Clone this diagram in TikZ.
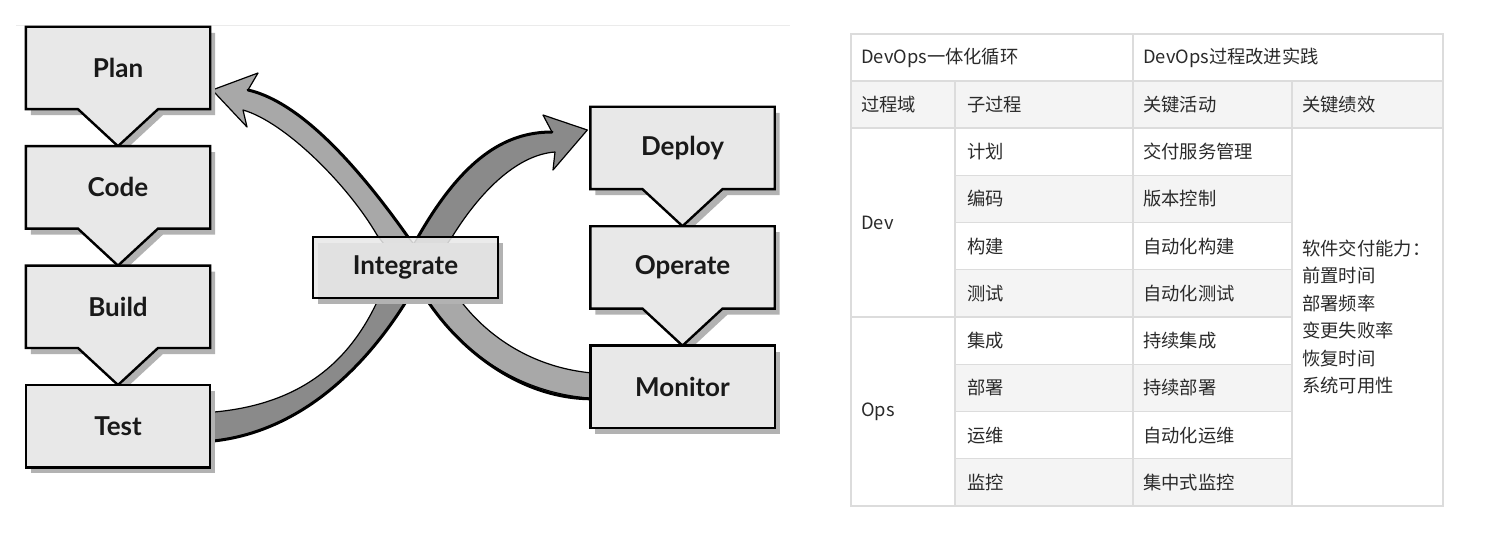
\documentclass[tikz,border=0pt]{standalone}
\usepackage{fontspec}
\setsansfont{Lato}
\newfontfamily\cjk{Noto Sans CJK SC}
\usepackage{tikz}
\usetikzlibrary{positioning,calc,shadows}
\pgfdeclarelayer{ribbons}
\pgfdeclarelayer{boxes}
\pgfsetlayers{ribbons,boxes,main}
\definecolor{boxfill}{HTML}{E8E8E8}
\definecolor{ribdark}{HTML}{8A8A8A}
\definecolor{riblight}{HTML}{A8A8A8}
\definecolor{gridline}{HTML}{DCDCDC}
\definecolor{rowshade}{HTML}{F4F4F4}
\definecolor{celltext}{HTML}{2A2A2A}
\def\dy{37pt}
\def\rh{47.25}
\tikzstyle{stage}=[minimum width=184pt,minimum height=82pt,inner sep=0pt,
  font=\sffamily\bfseries\fontsize{26}{30}\selectfont,text=black!90]
\tikzstyle{frame}=[draw=black,line width=2.4pt,fill=boxfill,line join=miter,
  drop shadow={shadow xshift=5pt,shadow yshift=-6pt,fill=black!30,opacity=1}]
\tikzstyle{ribbon}=[draw=black,line width=1.2pt,line join=round]
\tikzstyle{rim}=[draw=black,line width=3pt,line cap=round]
\tikzstyle{grid}=[draw=gridline,line width=1.2pt]
\tikzstyle{cell}=[anchor=west,inner sep=0pt,text=celltext,
  font=\cjk\fontsize{18.3}{22}\selectfont]
\newcommand{\newStage}[3]{\node[stage,#3](#1){#2};}
\newcommand{\stageFlag}[2]{\draw[frame] (#1.north west) -- (#1.north east) -- (#1.south east)
  -- ([xshift=40pt]#1.south) -- (#2.north) -- ([xshift=-40pt]#1.south) -- (#1.south west) -- cycle;}
\newcommand{\stageBox}[2]{\draw[frame,#2] (#1.north west) rectangle (#1.south east);}

\begin{document}
\begin{tikzpicture}[x=1pt,y=-1pt,node distance=\dy]
  \useasboundingbox (0,0) rectangle (1496,556);

  % stages of the loop
  \newStage{plan}{Plan}{at={(118,68)}}
  \newStage{code}{Code}{below=of plan}
  \newStage{build}{Build}{below=of code}
  \newStage{test}{Test}{below=of build}
  \newStage{deploy}{Deploy}{at={(682.5,148)}}
  \newStage{operate}{Operate}{below=of deploy}
  \newStage{monitor}{Monitor}{below=of operate}
  \newStage{integrate}{Integrate}{at={(405.5,267.5)},minimum width=185pt,minimum height=61pt}

  \begin{pgfonlayer}{boxes}
    \stageFlag{plan}{code}
    \stageFlag{code}{build}
    \stageFlag{build}{test}
    \stageBox{test}{}
    \stageFlag{deploy}{operate}
    \stageFlag{operate}{monitor}
    \stageBox{monitor}{}
    \stageBox{integrate}{fill opacity=0.88}
  \end{pgfonlayer}

  \begin{pgfonlayer}{ribbons}
    \draw[black!8,line width=1pt] (16,26) -- (790,26);
    % test -> deploy
    \filldraw[ribbon,fill=ribdark] ($(test.east)+(-15,-13)$) .. controls (290,410) and (345,370) .. (377,302)
      -- (418,237) .. controls (462,160) and (504,132) .. (552,132) -- (543,115) -- ($(deploy.west)+(-3,-18)$)
      -- (553,170) -- (555,152) .. controls (515,155) and (478,195) .. (452,237)
      -- (407,300) .. controls (370,360) and (300,440) .. ($(test.east)+(-15,16)$) -- cycle;
    \draw[rim] (407,300) .. controls (370,360) and (300,440) .. ($(test.east)+(-15,16)$);
    \draw[rim] (418,237) .. controls (462,160) and (504,132) .. (552,132);
    % monitor -> plan
    \filldraw[ribbon,fill=riblight] ($(monitor.west)+(15,-13)$) .. controls (540,372) and (490,340) .. (460,300)
      -- (408,237) .. controls (345,148) and (292,100) .. (248,90) -- (258,73) -- ($(plan.east)+(2,22)$)
      -- (247,127) -- (243,110) .. controls (285,122) and (348,185) .. (377,235)
      -- (427,300) .. controls (460,350) and (520,398) .. ($(monitor.west)+(15,12)$) -- cycle;
    \draw[rim] (408,237) .. controls (345,148) and (292,100) .. (248,90);
    \draw[rim] (427,300) .. controls (460,350) and (520,398) .. ($(monitor.west)+(0,12)$);
  \end{pgfonlayer}

  % table
  \fill[rowshade] (851,81) rectangle (1443,128);
  \foreach \k in {1,3,5,7}
    \fill[rowshade] (955,{128+\rh*\k}) rectangle (1292,{128+\rh*(\k+1)});
  \draw[grid] (851,34) rectangle (1443,506);
  \draw[grid] (851,81) -- (1443,81);
  \draw[grid] (851,128) -- (1443,128);
  \draw[grid] (955,81) -- (955,506);
  \draw[grid] (1133,34) -- (1133,506);
  \draw[grid] (1292,81) -- (1292,506);
  \draw[grid] (851,317) -- (955,317);
  \foreach \k in {1,...,7}
    \draw[grid] (955,{128+\rh*\k}) -- (1292,{128+\rh*\k});

  \node[cell] (loop) at (861,57.5) {DevOps一体化循环};
  \node[cell] (practice) at (1143,57.5) {DevOps过程改进实践};
  \node[cell] (domain) at (861,104.5) {过程域};
  \node[cell] (subproc) at (967,104.5) {子过程};
  \node[cell] (activity) at (1143,104.5) {关键活动};
  \node[cell] (kpi) at (1302,104.5) {关键绩效};
  \node[cell] (dev) at (861,222.5) {Dev};
  \node[cell] (ops) at (861,411.5) {Ops};
  \foreach \sub/\act [count=\k] in {计划/交付服务管理,编码/版本控制,构建/自动化构建,测试/自动化测试,
      集成/持续集成,部署/持续部署,运维/自动化运维,监控/集中式监控} {
    \node[cell] (sub\k) at (967,{128+\rh*(\k-0.5)}) {\sub};
    \node[cell] (act\k) at (1143,{128+\rh*(\k-0.5)}) {\act};
  }
  \node[cell,align=left,font=\cjk\fontsize{18.3}{27.4}\selectfont] (kpilist) at (1302,317)
    {软件交付能力：\\前置时间\\部署频率\\变更失败率\\恢复时间\\系统可用性};
\end{tikzpicture}
\end{document}
